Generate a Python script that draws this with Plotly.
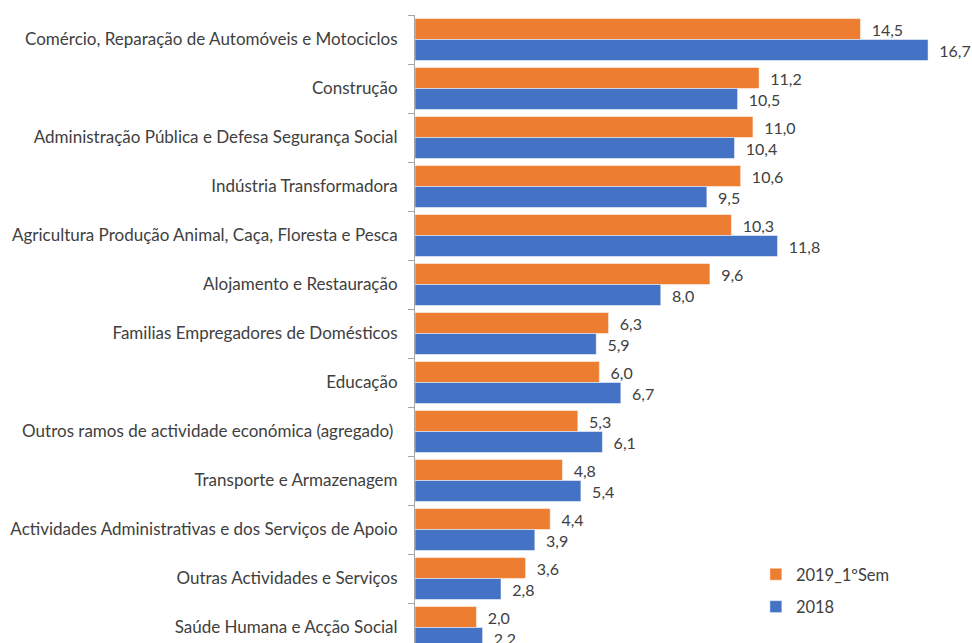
import plotly.graph_objects as go

categories = [
    "Comércio, Reparação de Automóveis e Motociclos",
    "Construção",
    "Administração Pública e Defesa Segurança Social",
    "Indústria Transformadora",
    "Agricultura Produção Animal, Caça, Floresta e Pesca",
    "Alojamento e Restauração",
    "Familias Empregadores de Domésticos",
    "Educação",
    "Outros ramos de actividade económica (agregado) ",
    "Transporte e Armazenagem",
    "Actividades Administrativas e dos Serviços de Apoio",
    "Outras Actividades e Serviços",
    "Saúde Humana e Acção Social",
]
s2019 = [14.5, 11.2, 11.0, 10.6, 10.3, 9.6, 6.3, 6.0, 5.3, 4.8, 4.4, 3.6, 2.0]
s2018 = [16.7, 10.5, 10.4, 9.5, 11.8, 8.0, 5.9, 6.7, 6.1, 5.4, 3.9, 2.8, 2.2]

FONT = "Lato"
FS = 16.5
TXT = "#404040"

fig = go.Figure()
fig.add_trace(go.Bar(
    y=categories, x=s2019, orientation="h", name="2019_1ºSem", legendgroup="a",
    marker=dict(color="#ED7D31", line=dict(color="white", width=0.5)),
    texttemplate="\u00a0\u00a0%{x:.1f}", textposition="outside", cliponaxis=False,
    textfont=dict(family=FONT, size=16, color=TXT),
))
fig.add_trace(go.Bar(
    y=categories, x=s2018, orientation="h", name="2018", legendgroup="b",
    marker=dict(color="#4472C4", line=dict(color="white", width=0.5)),
    texttemplate="\u00a0\u00a0%{x:.1f}", textposition="outside", cliponaxis=False,
    textfont=dict(family=FONT, size=16, color=TXT),
))

fig.update_layout(
    width=972, height=643,
    margin=dict(l=415, r=0, t=15, b=0),
    paper_bgcolor="white", plot_bgcolor="white",
    barmode="group", bargap=0.143, bargroupgap=0,
    separators=",.",
    font=dict(family=FONT, size=FS, color=TXT),
    showlegend=True,
    legend=dict(x=0.612, y=0.137, xanchor="left", yanchor="top",
                font=dict(family=FONT, size=FS, color=TXT),
                bgcolor="rgba(0,0,0,0)", tracegroupgap=8, traceorder="grouped"),
    uniformtext=dict(mode=False),
)
fig.update_xaxes(range=[0, 18.13], visible=False, showgrid=False, zeroline=False)
fig.update_yaxes(
    type="category", range=[12.316, -0.5],
    showline=True, linecolor="#A6A6A6", linewidth=1,
    ticks="outside", ticklen=6, tickcolor="#A6A6A6", tickson="boundaries",
    ticklabelstandoff=13, showgrid=False,
    tickfont=dict(family=FONT, size=17, color=TXT),
)

fig.write_html(
    "out.html",
    config={"displayModeBar": False},
    post_script="document.body.style.margin='0';document.body.style.overflow='hidden';",
)
